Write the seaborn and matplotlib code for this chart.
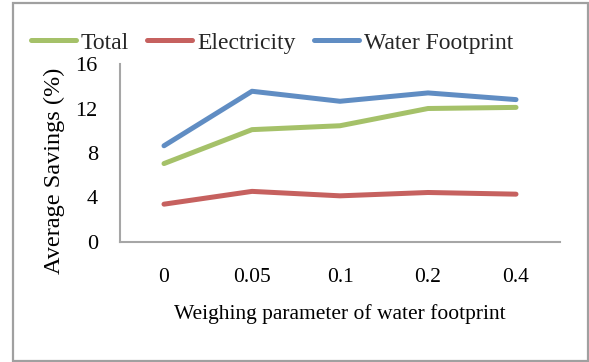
import matplotlib
matplotlib.use("Agg")
import matplotlib.pyplot as plt
import seaborn as sns
import pandas as pd
from matplotlib.patches import Rectangle

# Weighing parameter levels and average savings (%) per component
weights = ["0", "0.05", "0.1", "0.2", "0.4"]
total = [7.05, 10.1, 10.45, 12.0, 12.1]
electricity = [3.4, 4.55, 4.15, 4.45, 4.3]
water_footprint = [8.65, 13.55, 12.65, 13.4, 12.8]

series_names = ["Total", "Electricity", "Water Footprint"]
colors = ["#9BBB59", "#C0504D", "#4F81BD"]

df = pd.DataFrame({
    "weight": weights * 3,
    "savings": total + electricity + water_footprint,
    "series": [s for s in series_names for _ in weights],
})

sns.set_theme(style="white")
plt.rcParams["font.family"] = ["Liberation Serif", "DejaVu Serif"]

fig = plt.figure(figsize=(5.89, 3.62), dpi=100)
ax = fig.add_axes([120 / 589, 1 - 242 / 362, 440 / 589, 178 / 362])

sns.lineplot(data=df, x="weight", y="savings", hue="series",
             hue_order=series_names, palette=colors, linewidth=3.6,
             sort=False, ax=ax, solid_capstyle="round", alpha=0.9)

ax.set_xlim(-0.5, 4.5)
ax.set_ylim(0, 16)
ax.set_yticks([0, 4, 8, 12, 16])
ax.tick_params(axis="both", length=0, labelsize=16, colors="black")
ax.tick_params(axis="x", pad=19, labelsize=15.5)
ax.tick_params(axis="y", pad=16)
ax.set_xlabel("Weighing parameter of water footprint", fontsize=15.5,
              labelpad=12, color="black")
ax.set_ylabel("")
fig.text(54 / 589, 1 - 171 / 362, "Average Savings (%)", rotation=90,
         ha="center", va="center", fontsize=17.5, color="black")

for side in ["top", "right"]:
    ax.spines[side].set_visible(False)
for side in ["left", "bottom"]:
    ax.spines[side].set_color("#a6a6a6")
    ax.spines[side].set_linewidth(1.5)

handles, labels = ax.get_legend_handles_labels()
ax.legend(handles, labels, loc="center", bbox_to_anchor=(272 / 589, 1 - 43 / 362),
          bbox_transform=fig.transFigure, ncol=3, frameon=False,
          fontsize=17, handlelength=1.9, handletextpad=0.2,
          columnspacing=0.8, borderaxespad=0)

# Outer chart frame
fig.patches.append(Rectangle((13 / 589, 1 / 362), 575 / 589, 358 / 362,
                             transform=fig.transFigure, fill=False,
                             edgecolor="#a0a0a0", linewidth=1.6))

fig.savefig("out.png", dpi=100)
